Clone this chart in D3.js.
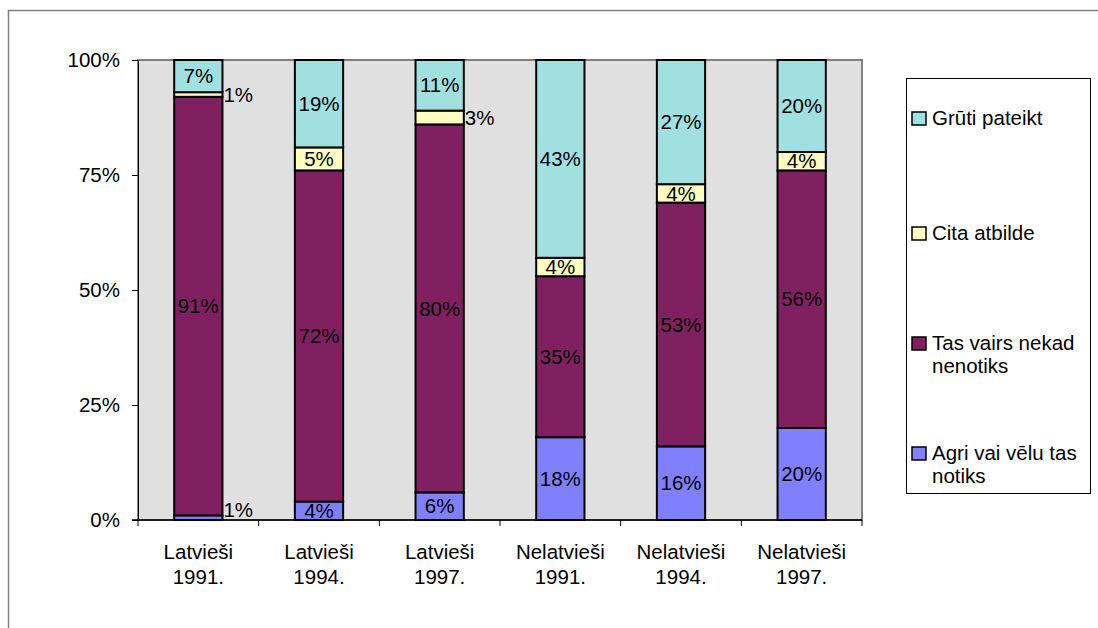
<!DOCTYPE html>
<html>
<head>
<meta charset="utf-8">
<script src="https://cdn.jsdelivr.net/npm/d3@7"></script>
<style>
    body { margin: 0; background: #fff; }
    text { font-family: "Liberation Sans", Arial, sans-serif; fill: #000; }
</style>
</head>
<body>
<svg id="chart"></svg>
<script>
// categories, two lines each
const categories = ["Latvieši 1991.", "Latvieši 1994.", "Latvieši 1997.",
    "Nelatvieši 1991.", "Nelatvieši 1994.", "Nelatvieši 1997."];
const seriesNames = ["Agri vai vēlu tas notiks", "Tas vairs nekad nenotiks", "Cita atbilde", "Grūti pateikt"];
const agri  = [1, 4, 6, 18, 16, 20];
const nekad = [91, 72, 80, 35, 53, 56];
const cita  = [1, 5, 3, 4, 4, 4];
const gruti = [7, 19, 11, 43, 27, 20];
const yTicks = [0, 25, 50, 75, 100];
const colors = ["#8080ff", "#802060", "#ffffc0", "#a0e0e0"];

const width = 1098, height = 628;
const margins = {left: 138, right: 236, top: 60, bottom: 108};
const fontSize = "20.5px";

const svg = d3.select("#chart").attr("width", width).attr("height", height);

// outer chart frame (cropped)
svg.append("path")
    .attr("d", "M8.5," + height + "V10.5H" + width)
    .attr("fill", "none").attr("stroke", "#808080").attr("stroke-width", 1.5);

const xScale = d3.scaleBand()
    .domain(categories)
    .range([margins.left, width - margins.right]);
const yScale = d3.scaleLinear()
    .domain([0, 100])
    .range([height - margins.bottom, margins.top]);

// plot area
svg.append("rect")
    .attr("x", margins.left).attr("y", margins.top)
    .attr("width", width - margins.right - margins.left)
    .attr("height", height - margins.bottom - margins.top)
    .attr("fill", "#e0e0e0")
    .attr("stroke", "#808080").attr("stroke-width", 2);

const rows = categories.map(function(c, i) {
    return {cat: c, s0: agri[i], s1: nekad[i], s2: cita[i], s3: gruti[i]};
});
const stack = d3.stack().keys(["s0", "s1", "s2", "s3"])(rows);

const barW = xScale.bandwidth() * 0.4;
const g = svg.append("g");

stack.forEach(function(layer, k) {
    g.selectAll(".bar" + k)
        .data(layer)
        .enter().append("rect")
        .attr("class", "bar" + k)
        .attr("x", function(d) { return xScale(d.data.cat) + (xScale.bandwidth() - barW) / 2; })
        .attr("y", function(d) { return yScale(d[1]); })
        .attr("width", barW)
        .attr("height", function(d) { return yScale(d[0]) - yScale(d[1]); })
        .attr("fill", colors[k])
        .attr("stroke", "#000").attr("stroke-width", 2);
});

// value labels, small segments get their label beside the bar
stack.forEach(function(layer, k) {
    g.selectAll(".lbl" + k)
        .data(layer)
        .enter().append("text")
        .attr("class", "lbl" + k)
        .style("font-size", fontSize)
        .attr("text-anchor", function(d) { return (d[1] - d[0]) <= 3 ? "start" : "middle"; })
        .attr("x", function(d) {
            const c = xScale(d.data.cat) + xScale.bandwidth() / 2;
            return (d[1] - d[0]) <= 3 ? c + barW / 2 + 1 : c;
        })
        .attr("y", function(d) {
            const v = d[1] - d[0];
            if (k === 0 && v <= 3) return yScale(d[1]) - 6;
            return yScale((d[0] + d[1]) / 2);
        })
        .attr("dy", "0.35em")
        .text(function(d) { return (d[1] - d[0]) + "%"; });
});

// axes
const yAxis = d3.axisLeft(yScale).tickValues(yTicks)
    .tickFormat(function(d) { return d + "%"; }).tickSize(6).tickPadding(12);
const yG = svg.append("g")
    .attr("transform", "translate(" + margins.left + ",0)")
    .call(yAxis);
yG.select(".domain").attr("stroke", "#000").attr("stroke-width", 1);
yG.selectAll("text").style("font-size", fontSize).attr("font-family", null);

const xAxisY = height - margins.bottom;
svg.append("line")
    .attr("x1", margins.left - 6).attr("x2", width - margins.right)
    .attr("y1", xAxisY).attr("y2", xAxisY)
    .attr("stroke", "#000").attr("stroke-width", 1.5);

// category separators below axis
svg.selectAll(".xtick")
    .data(categories)
    .enter().append("line")
    .attr("class", "xtick")
    .attr("x1", function(d) { return xScale(d); })
    .attr("x2", function(d) { return xScale(d); })
    .attr("y1", xAxisY).attr("y2", xAxisY + 6)
    .attr("stroke", "#000");
svg.append("line")
    .attr("x1", width - margins.right).attr("x2", width - margins.right)
    .attr("y1", xAxisY).attr("y2", xAxisY + 6).attr("stroke", "#000");

const catLbl = svg.selectAll(".catLbl")
    .data(categories)
    .enter().append("text")
    .attr("class", "catLbl")
    .style("font-size", fontSize)
    .attr("text-anchor", "middle")
    .attr("transform", function(d) {
        return "translate(" + (xScale(d) + xScale.bandwidth() / 2) + "," + (xAxisY + 39) + ")";
    });
catLbl.append("tspan").attr("x", 0).attr("y", 0)
    .text(function(d) { return d.split(" ")[0]; });
catLbl.append("tspan").attr("x", 0).attr("y", 25)
    .text(function(d) { return d.split(" ")[1]; });

// legend
const legend = svg.append("g").attr("transform", "translate(906,78)");
legend.append("rect")
    .attr("x", 0.5).attr("y", 0.5).attr("width", 184).attr("height", 415)
    .attr("fill", "#fff").attr("stroke", "#000");

const legendItems = [
    {name: seriesNames[3], color: colors[3], y: 40, lines: ["Grūti pateikt"]},
    {name: seriesNames[2], color: colors[2], y: 155, lines: ["Cita atbilde"]},
    {name: seriesNames[1], color: colors[1], y: 265, lines: ["Tas vairs nekad", "nenotiks"]},
    {name: seriesNames[0], color: colors[0], y: 375, lines: ["Agri vai vēlu tas", "notiks"]}
];
const li = legend.selectAll(".lineLegend")
    .data(legendItems)
    .enter().append("g")
    .attr("class", "lineLegend")
    .attr("transform", function(d) { return "translate(0," + d.y + ")"; });
li.append("rect")
    .attr("x", 6).attr("y", -6).attr("width", 14).attr("height", 13)
    .attr("fill", function(d) { return d.color; })
    .attr("stroke", "#000").attr("stroke-width", 1.5);
li.each(function(d) {
    const t = d3.select(this).append("text").style("font-size", fontSize);
    d.lines.forEach(function(l, i) {
        t.append("tspan").attr("x", 26).attr("y", i * 23).attr("dy", "0.35em").text(l);
    });
});
</script>
</body>
</html>
